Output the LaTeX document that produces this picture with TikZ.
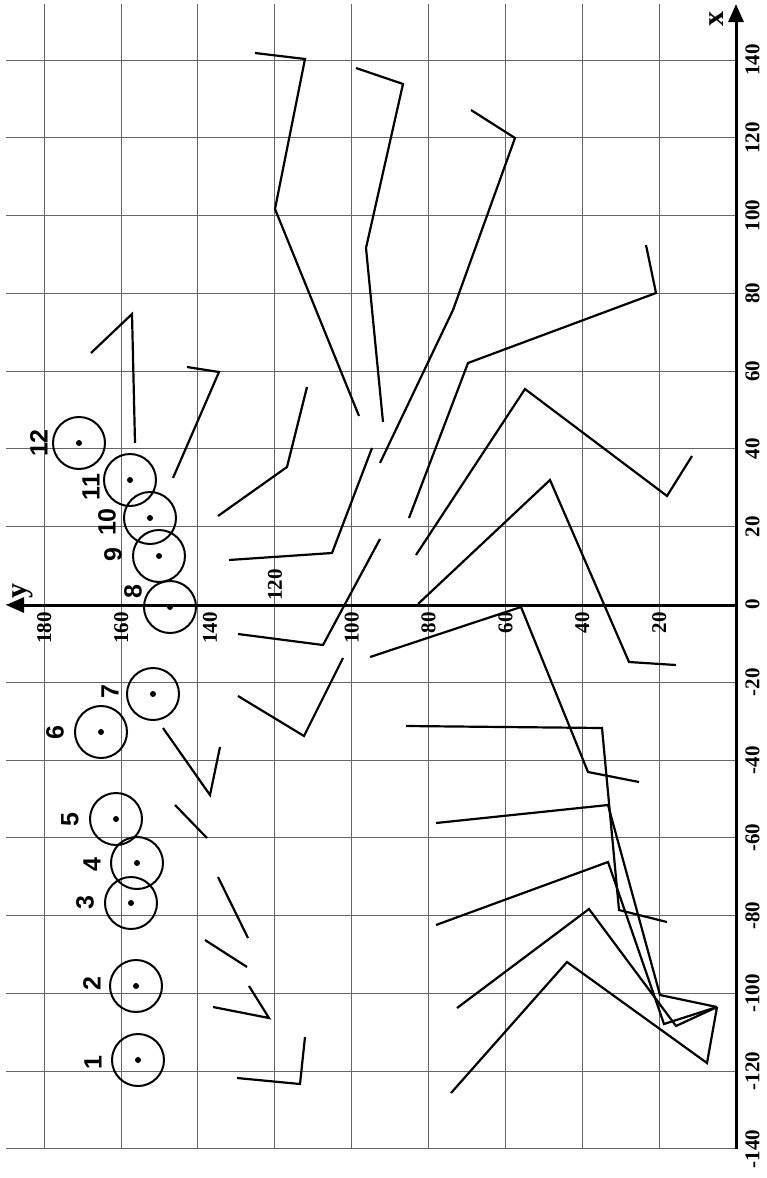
\documentclass[tikz,border=0pt]{standalone}
\usepackage{fontspec}
\setmainfont{Liberation Serif}
\newfontfamily\headfont{Liberation Sans}
\usetikzlibrary{arrows.meta}
\tikzset{
  gridline/.style={black!60, line width=0.5pt},
  axisline/.style={line width=1.5pt, -{Triangle[length=9pt,width=7.5pt]}},
  stick/.style={line width=1.1pt, line join=miter},
  head/.style={circle, draw, line width=1pt, minimum size=26pt, inner sep=0pt},
  ticklab/.style={rotate=90, inner sep=0pt, font=\fontsize{10.5}{10.5}\selectfont\bfseries},
  axislab/.style={rotate=90, inner sep=0pt, font=\fontsize{15}{15}\selectfont\bfseries},
  numlab/.style={rotate=90, inner sep=0pt, font=\headfont\fontsize{12.5}{12.5}\selectfont\bfseries}
}

\begin{document}
\begin{tikzpicture}[x=0.5pt, y=-0.5pt]
   \useasboundingbox (0,0) rectangle (766,1178);
   % grid
   \foreach \v in {-140,-120,...,140}
      \draw[gridline] (6,{604.5-3.889*\v}) -- (736,{604.5-3.889*\v});
   \foreach \v in {20,40,...,180}
      \draw[gridline] ({736-3.843*\v},4) -- ({736-3.843*\v},1149);
   % axes
   \coordinate (xbot) at (736,1149);
   \coordinate (xtop) at (736,4);
   \coordinate (yorg) at (736,605);
   \coordinate (yend) at (6,605);
   \draw[axisline] (xbot) -- (xtop);
   \draw[axisline] (yorg) -- (yend);
   \node(xname) [axislab] at (717,19) {x};
   \node(yname) [axislab] at (23,591) {y};
   \foreach \v in {-140,-120,...,140}
      \node(xt\v) [ticklab, anchor=north] at (745,{604.5-3.889*\v}) {\v};
   \foreach \v in {180,160,100,80,60,40,20}
      \node(yt\v) [ticklab, anchor=east] at ({736-3.843*\v},612) {\v};
   \node(yt140) [ticklab, anchor=east] at (210,612) {140};
   \node(yt120) [ticklab, anchor=west] at (275,601) {120};

   % upper figures
   \draw[stick] (255,53) -- (305,59) -- (275,209) -- (359,416);
   \draw[stick] (356,68) -- (403,84) -- (366,248) -- (383,422);
   \draw[stick] (471,110) -- (515,138) -- (453,310) -- (380,463);
   \draw[stick] (646,245) -- (656,293) -- (468,363) -- (409,518);
   \draw[stick] (416,555) -- (525,389) -- (667,496) -- (692,456);
   \draw[stick] (418,604) -- (550,480) -- (629,662) -- (676,665);
   \draw[stick] (370,657) -- (521,607) -- (588,772) -- (639,782);
   \draw[stick] (91,353) -- (132,314) -- (135,443);
   \draw[stick] (187,367) -- (219,372) -- (173,478);
   \draw[stick] (307,387) -- (287,467) -- (218,516);
   \draw[stick] (372,448) -- (332,553) -- (229,560);
   \draw[stick] (380,539) -- (323,645) -- (238,634);
   \draw[stick] (343,658) -- (304,736) -- (238,696);
   \draw[stick] (163,728) -- (210,795) -- (220,747);
   % lower figures
   \draw[stick] (175,805) -- (207,838);
   \draw[stick] (218,877) -- (248,938);
   \draw[stick] (205,940) -- (247,967);
   \draw[stick] (249,986) -- (269,1018) -- (213,1007);
   \draw[stick] (305,1037) -- (300,1084) -- (237,1078);
   \draw[stick] (406,726) -- (602,728) -- (619,910) -- (667,922);
   \draw[stick] (436,823) -- (608,805) -- (660,995) -- (717,1007);
   \draw[stick] (436,925) -- (608,862) -- (664,1024) -- (717,1007);
   \draw[stick] (457,1008) -- (589,909) -- (676,1026) -- (717,1007);
   \draw[stick] (451,1093) -- (567,962) -- (707,1063) -- (717,1007);

   % heads
   \node(c1) [head] at (138,1060) {};
   \node(c2) [head] at (136,986) {};
   \node(c3) [head] at (131,903) {};
   \node(c4) [head] at (137,863) {};
   \node(c5) [head] at (116,819) {};
   \node(c6) [head] at (101,732) {};
   \node(c7) [head] at (153,694) {};
   \node(c8) [head] at (170,607) {};
   \node(c9) [head] at (159,556) {};
   \node(c10) [head] at (150,518) {};
   \node(c11) [head] at (130,480) {};
   \node(c12) [head] at (79,443) {};
   \foreach \c in {1,...,12}
      \fill (c\c.center) circle[radius=3];
   \node(n1) [numlab] at (93,1063) {1};
   \node(n2) [numlab] at (92,984) {2};
   \node(n3) [numlab] at (85,903) {3};
   \node(n4) [numlab] at (92,865) {4};
   \node(n5) [numlab] at (70,820) {5};
   \node(n6) [numlab] at (55,733) {6};
   \node(n7) [numlab] at (110,692) {7};
   \node(n8) [numlab] at (133,592) {8};
   \node(n9) [numlab] at (113,555) {9};
   \node(n10) [numlab] at (107,522) {10};
   \node(n11) [numlab] at (91,487) {11};
   \node(n12) [numlab] at (39,443) {12};
\end{tikzpicture}
\end{document}
